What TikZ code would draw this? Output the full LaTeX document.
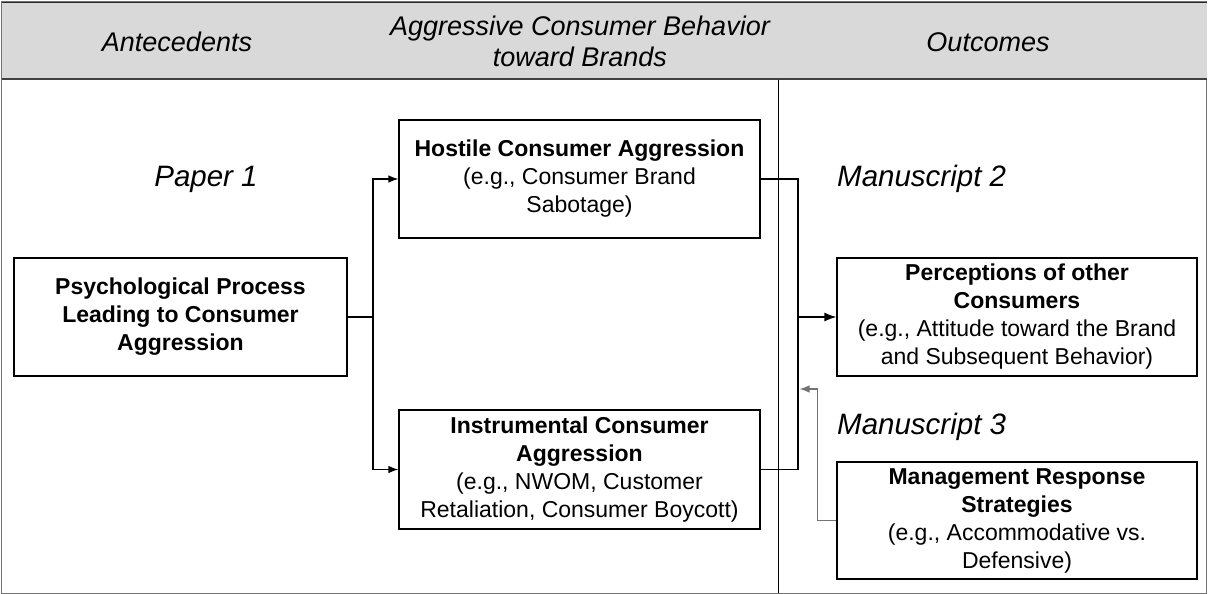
\documentclass[tikz,border=0pt]{standalone}
\usepackage{fontspec}
\setmainfont{Liberation Sans}
\usetikzlibrary{arrows.meta}
\begin{document}
\begin{tikzpicture}[x=1pt,y=-1pt,
  mybox/.style={draw=black, line width=1.2pt, fill=white, align=center, inner sep=0pt,
    font=\fontsize{23}{28}\selectfont},
  hdr/.style={font=\fontsize{27}{31}\selectfont\itshape, align=center, inner sep=0pt},
  paper/.style={font=\fontsize{29.5}{34}\selectfont\itshape, inner sep=0pt},
  conn/.style={line width=1.2pt, black},
  arr/.style={conn, -{Latex[length=10pt,width=7.5pt]}},
  bigarr/.style={conn, -{Latex[length=12pt,width=9pt]}},
  garr/.style={line width=1.2pt, black!55, -{Latex[length=10pt,width=7.5pt]}}
]
\useasboundingbox (0,0) rectangle (1208,594);
% outer frame
\draw[black!55, line width=1pt] (1.5,2) rectangle (1206.5,593);
% header band
\fill[black!15] (1.5,3) rectangle (1206.5,79);
\draw[black!85, line width=1.4pt] (1.5,2.5) -- (1206.5,2.5);
\draw[black!75, line width=2pt] (1.5,79) -- (1206.5,79);
% column divider
\draw[black, line width=1pt] (778,80) -- (778,593);
% header texts
\node[hdr] (hA) at (177,42) {Antecedents};
\node[hdr] (hB) at (580,41) {Aggressive Consumer Behavior\\toward Brands};
\node[hdr] (hC) at (988,42) {Outcomes};
% section labels
\node[paper, anchor=base] (p1) at (206,186) {Paper 1};
\node[paper, anchor=base west] (m2) at (837,186) {Manuscript 2};
\node[paper, anchor=base west] (m3) at (837,434) {Manuscript 3};
% boxes
\node[mybox, minimum width=333pt, minimum height=118pt] (psych) at (180.5,317)
  {\textbf{Psychological Process}\\\textbf{Leading to Consumer}\\\textbf{Aggression}};
\node[mybox, minimum width=361pt, minimum height=118pt] (host) at (579.5,179)
  {\textbf{Hostile Consumer Aggression}\\(e.g., Consumer Brand\\Sabotage)};
\node[mybox, minimum width=361pt, minimum height=119pt] (instr) at (579.5,469.5)
  {\textbf{Instrumental Consumer}\\\textbf{Aggression}\\(e.g., NWOM, Customer\\Retaliation, Consumer Boycott)};
\node[mybox, minimum width=360pt, minimum height=118pt] (perc) at (1017,317)
  {\textbf{Perceptions of other}\\\textbf{Consumers}\\(e.g., Attitude toward the Brand\\and Subsequent Behavior)};
\node[mybox, minimum width=360pt, minimum height=117pt] (mgmt) at (1017,520.5)
  {\textbf{Management Response}\\\textbf{Strategies}\\(e.g., Accommodative vs.\\Defensive)};
% connectors
\coordinate (j1) at (373,317);
\coordinate (j2) at (798,317);
\coordinate (j3) at (799.5,389);
\draw[conn] (psych.east) -- (j1);
\draw[arr] (j1) |- (host.west);
\draw[arr] (j1) |- (instr.west);
\draw[conn] (host.east) -| (j2);
\draw[conn] (instr.east) -| (j2);
\draw[bigarr] (j2) -- (perc.west);
\draw[garr] (mgmt.west) -- ++(-19,0) |- (j3);
\end{tikzpicture}
\end{document}
